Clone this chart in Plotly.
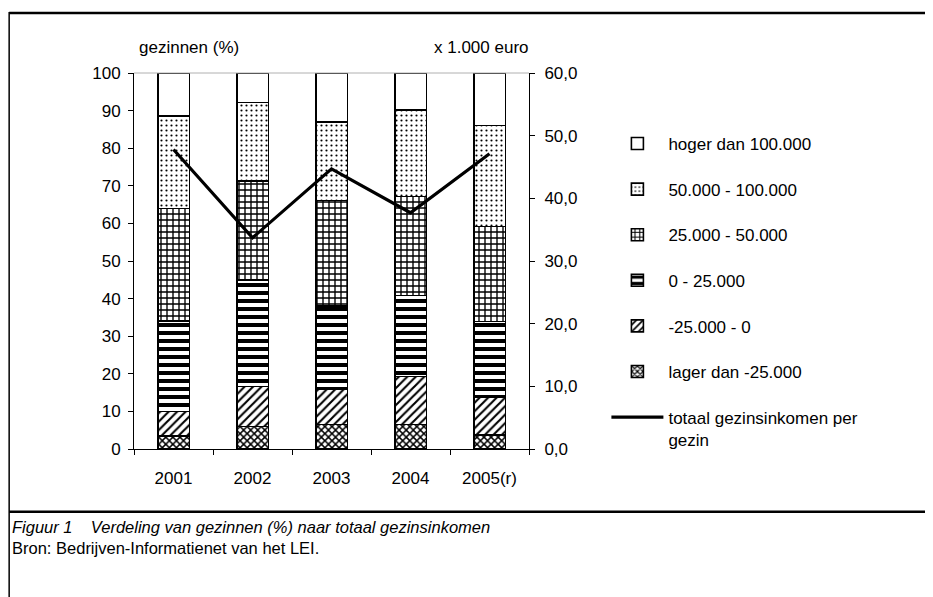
import plotly.graph_objects as go

years = ["2001", "2002", "2003", "2004", "2005(r)"]
lager = [3.5, 6.0, 6.5, 6.5, 3.8]
min25_0 = [6.5, 10.6, 9.3, 12.8, 10.0]
nul_25 = [24.0, 28.4, 22.3, 21.5, 20.1]
k25_50 = [30.0, 26.2, 28.0, 26.4, 25.3]
k50_100 = [24.5, 21.0, 20.8, 23.0, 26.8]
hoger = [11.5, 7.8, 13.1, 9.8, 14.0]
totaal = [47.8, 33.7, 44.7, 37.7, 47.1]

series = [
    ("lager dan -25.000", lager, "x", 5, 0.5, 6),
    ("-25.000 - 0", min25_0, "/", 6, 0.35, 5),
    ("0 - 25.000", nul_25, "-", 8, 0.5, 4),
    ("25.000 - 50.000", k25_50, "+", 6, 0.4, 3),
    ("50.000 - 100.000", k50_100, ".", 5, 0.15, 2),
    ("hoger dan 100.000", hoger, "", 8, 0.3, 1),
]

FONT = "Liberation Sans, Arial, sans-serif"
OFF = 8  # page body margin
W, H = 933 - OFF, 597 - OFF
# plot area in reference pixel coordinates
PL, PR, PT, PB = 134, 529.5, 73, 449.3
L, R, T, B = PL - OFF, 933 - PR, PT - OFF, 597 - PB

pw = PR - PL
ph = PB - PT

def px(xr):
    return (xr - PL) / pw

def py(yr):
    return (PB - yr) / ph

fig = go.Figure()
fig.add_trace(go.Scatter(
    x=years, y=totaal, yaxis="y2", mode="lines",
    line=dict(color="black", width=3.2),
    name="totaal gezinsinkomen per<br>gezin", legendgroup="g7", legendrank=7))

for i, (name, vals, shape, size, sol, rank) in enumerate(series):
    fig.add_trace(go.Bar(
        x=years, y=vals, name=name, legendgroup="g%d" % i, legendrank=rank,
        width=0.4,
        marker=dict(color="white",
                    line=dict(color="black", width=1.6),
                    pattern=dict(shape=shape, size=size, solidity=sol,
                                 fgcolor="black", bgcolor="white",
                                 fgopacity=1, fillmode="overlay")),
    ))

CAPFONT = "Liberation Sans Narrow, Arial Narrow, Liberation Sans"

fig.update_layout(
    width=W, height=H,
    margin=dict(l=L, r=R, t=T, b=B, pad=0),
    paper_bgcolor="white", plot_bgcolor="white",
    barmode="stack",
    separators=",.",
    font=dict(family=FONT, size=17, color="black"),
    showlegend=True,
    legend=dict(x=px(607), y=py(126), xanchor="left", yanchor="top",
                traceorder="grouped", tracegroupgap=20.5,
                itemwidth=52, valign="top",
                font=dict(family=FONT, size=17, color="black"),
                bgcolor="rgba(0,0,0,0)", borderwidth=0),
    xaxis=dict(showgrid=False, showline=True, linecolor="black", linewidth=1,
               ticks="outside", ticklen=5, tickcolor="black",
               tickson="boundaries", tickfont=dict(size=17), zeroline=False,
               ticklabelstandoff=14),
    yaxis=dict(range=[0, 100], dtick=10, showgrid=False, showline=True,
               linecolor="black", linewidth=1, ticks="outside", ticklen=5,
               tickcolor="black", zeroline=False, tickfont=dict(size=17),
               ticklabelstandoff=4),
    yaxis2=dict(range=[0, 60], dtick=10, tickformat=".1f", overlaying="y",
                side="right", showgrid=False, showline=True, linecolor="black",
                linewidth=1, ticks="outside", ticklen=5, tickcolor="black",
                zeroline=False, tickfont=dict(size=17), ticklabelstandoff=6),
    shapes=[
        dict(type="line", xref="x domain", yref="y domain", x0=0, x1=1, y0=1, y1=1,
             line=dict(color="#b0b0b0", width=1)),
        dict(type="line", xref="paper", yref="paper", x0=px(9), x1=px(935),
             y0=py(13), y1=py(13), line=dict(color="black", width=2.5)),
        dict(type="line", xref="paper", yref="paper", x0=px(9), x1=px(9),
             y0=py(12), y1=py(600), line=dict(color="black", width=1.5)),
        dict(type="line", xref="paper", yref="paper", x0=px(9), x1=px(927),
             y0=py(512), y1=py(512), line=dict(color="black", width=2.5)),
    ],
    annotations=[
        dict(text="gezinnen (%)", xref="paper", yref="paper", x=px(137), y=py(47),
             xanchor="left", yanchor="middle", showarrow=False, font=dict(size=17)),
        dict(text="x 1.000 euro", xref="paper", yref="paper", x=px(532), y=py(47),
             xanchor="right", yanchor="middle", showarrow=False, font=dict(size=17)),
        dict(text="<i>Figuur 1    Verdeling van gezinnen (%) naar totaal gezinsinkomen</i>",
             xref="paper", yref="paper", x=px(10), y=py(527), xanchor="left",
             yanchor="middle", showarrow=False,
             font=dict(family=CAPFONT, size=16.5)),
        dict(text="Bron: Bedrijven-Informatienet van het LEI.",
             xref="paper", yref="paper", x=px(10), y=py(548), xanchor="left",
             yanchor="middle", showarrow=False,
             font=dict(family=CAPFONT, size=16.5)),
    ],
)

fig.write_html("out.html")
